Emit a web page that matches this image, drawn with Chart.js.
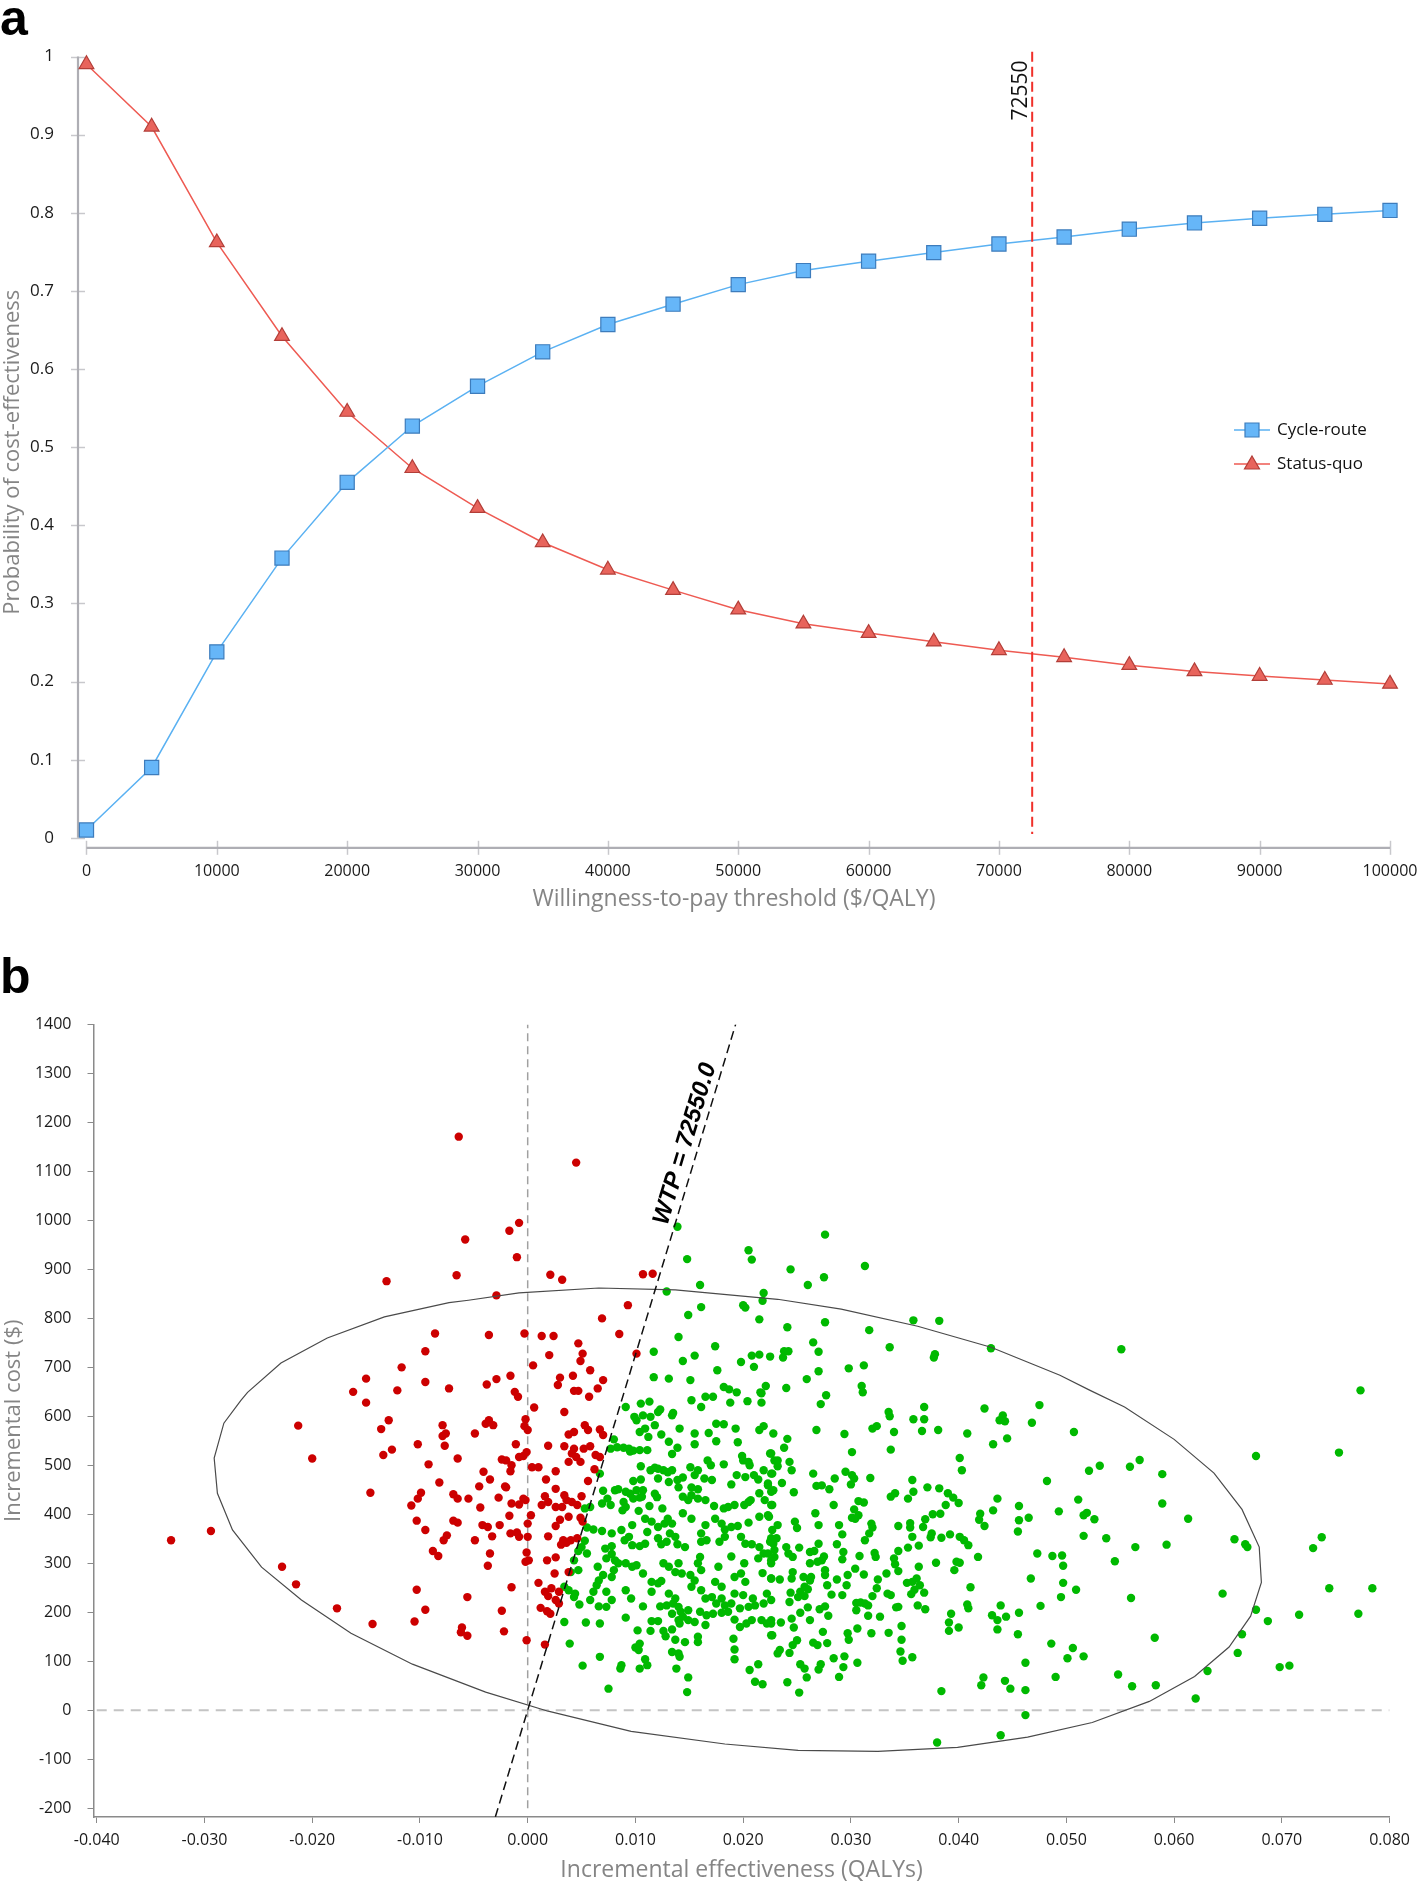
<!DOCTYPE html>
<html>
<head>
<meta charset="utf-8">
<script src="https://cdn.jsdelivr.net/npm/chart.js@4/dist/chart.umd.min.js"></script>
<style>
  body { margin: 0; background: #fff; }
  #page { position: relative; width: 1418px; height: 1884px; overflow: hidden; }
  .panel { position: absolute; left: 0; }
  .tag { position: absolute; left: 0; font: bold 50px "Liberation Sans", Arial, sans-serif; line-height: 50px; color: #000; }
</style>
</head>
<body>
<div id="page">
  <div class="panel" style="top:0"><canvas id="ceac" width="1418" height="930"></canvas></div>
  <div class="panel" style="top:930px"><canvas id="plane" width="1418" height="954"></canvas></div>
  <div class="tag" style="top:-7px">a</div>
  <div class="tag" style="top:951px">b</div>
</div>
<script>
// ---- panel a: acceptability curve ----
const wtpThresholds = [0, 5000, 10000, 15000, 20000, 25000, 30000, 35000, 40000, 45000, 50000,
  55000, 60000, 65000, 70000, 75000, 80000, 85000, 90000, 95000, 100000];
const cycleRoute = [0.01, 0.09, 0.238, 0.358, 0.455, 0.527, 0.578, 0.622, 0.657, 0.683, 0.708,
  0.726, 0.738, 0.749, 0.760, 0.769, 0.779, 0.787, 0.793, 0.798, 0.803];
const statusQuo = [0.99, 0.91, 0.762, 0.642, 0.545, 0.473, 0.422, 0.378, 0.343, 0.317, 0.292,
  0.274, 0.262, 0.251, 0.240, 0.231, 0.221, 0.213, 0.207, 0.202, 0.197];
const topXTicks = [0, 10000, 20000, 30000, 40000, 50000, 60000, 70000, 80000, 90000, 100000];
const topYTicks = [0, 0.1, 0.2, 0.3, 0.4, 0.5, 0.6, 0.7, 0.8, 0.9, 1];
const wtpValue = 72550;

// ---- panel b: cost-effectiveness plane ----
const planeXTicks = [-0.04, -0.03, -0.02, -0.01, 0, 0.01, 0.02, 0.03, 0.04, 0.05, 0.06, 0.07, 0.08];
const planeYTicks = [-200, -100, 0, 100, 200, 300, 400, 500, 600, 700, 800, 900, 1000, 1100, 1200, 1300, 1400];
const wtpLineEffects = [-0.003, 0.0193];

// confidence ellipse outline [effect, cost]
const ellipse = [[-0.0266,633],[-0.0260,649],[-0.0229,709],[-0.0186,760],[-0.0133,803],[-0.0073,832],
  [-0.0055,837],[-0.0008,852],[0.0066,862],[0.0137,858],[0.0232,839],[0.0291,819],[0.0362,784],
  [0.0430,741],[0.0494,684],[0.0522,653],[0.0554,619],[0.0600,553],[0.0637,484],[0.0663,410],
  [0.0679,333],[0.0681,261],[0.0671,192],[0.0651,129],[0.0619,69],[0.0577,18],[0.0524,-25],
  [0.0464,-55],[0.0399,-76],[0.0325,-84],[0.0251,-82],[0.0183,-69],[0.0096,-43],[0.0019,-2],
  [-0.0039,37],[-0.0107,94],[-0.0164,157],[-0.0210,225],[-0.0247,292],[-0.0274,368],[-0.0288,443],
  [-0.0291,515],[-0.0282,586],[-0.0266,633]];

// simulations not cost-effective at the threshold [effect, cost]
const redSims = [[-0.0064,1171],[-0.0058,961],[-0.0066,888],[-0.0131,876],[-0.0086,769],[-0.0095,733],
  [-0.0117,700],[-0.0150,677],[-0.0095,670],[-0.0073,657],[-0.0121,653],[-0.0162,650],
  [0.0045,1118],[-0.0008,995],[-0.0017,979],[-0.0010,925],[0.0021,889],[0.0032,879],[0.0107,890],
  [0.0116,891],[-0.0029,847],[0.0093,827],[0.0069,800],[-0.0036,766],[-0.0003,769],[0.0013,764],
  [0.0024,764],[0.0085,768],[0.0047,749],[0.0051,728],[0.0020,725],[0.0101,728],[0.0049,713],
  [0.0005,704],[0.0058,694],[-0.0016,683],[0.0042,683],[-0.0029,676],[0.0030,679],[0.0070,674],
  [-0.0038,665],[0.0028,664],[0.0065,657],[0.0043,652],[0.0047,652],[-0.0012,650],
  [-0.0150,628],[-0.0213,581],[-0.0129,592],[-0.0136,574],[-0.0079,582],[-0.0076,565],[-0.0079,560],
  [-0.0102,543],[-0.0077,540],[-0.0126,532],[-0.0134,521],[-0.0200,514],[-0.0065,514],[-0.0092,502],
  [-0.0082,465],[-0.0146,444],[-0.0099,444],[-0.0102,432],[-0.0069,441],[-0.0065,432],[-0.0055,432],
  [-0.0108,418],[-0.0103,387],[-0.0069,387],[-0.0065,383],[-0.0095,368],[-0.0294,366],[-0.0331,347],
  [-0.0075,357],[-0.0078,347],[-0.0088,325],[-0.0083,315],[-0.0228,293],[-0.0215,257],[-0.0103,246],
  [-0.0056,231],[-0.0177,208],[-0.0095,205],[-0.0144,176],[-0.0105,181],[-0.0061,169],[-0.0062,159],
  [-0.0056,152],
  [-0.0009,640],[0.0057,640],[0.0006,618],[0.0034,609],[-0.0036,592],[-0.0039,585],[-0.0032,582],
  [-0.0002,594],[-0.0003,580],[0.0000,572],[-0.0049,565],[0.0053,582],[0.0056,572],[0.0067,573],
  [0.0070,562],[0.0038,563],[0.0043,568],[-0.0011,543],[0.0019,540],[0.0034,539],[0.0043,534],
  [0.0052,534],[0.0058,539],[0.0041,524],[0.0045,517],[-0.0001,527],[-0.0004,519],[-0.0008,517],
  [0.0063,521],[0.0067,517],[-0.0024,512],[-0.0020,510],[0.0038,507],[0.0049,507],[-0.0015,500],
  [-0.0016,488],[0.0004,496],[0.0010,496],[-0.0041,487],[0.0026,488],[0.0062,492],[-0.0035,471],
  [0.0017,471],[0.0056,468],[-0.0045,457],[-0.0021,457],[-0.0020,455],[0.0026,452],[-0.0027,434],
  [-0.0004,432],[0.0016,437],[0.0019,425],[0.0013,419],[0.0034,439],[0.0036,429],[0.0041,425],
  [0.0046,419],[0.0050,437],[0.0032,415],[-0.0015,422],[-0.0008,420],[-0.0002,429],[-0.0044,414],
  [0.0026,415],[-0.0017,397],[0.0003,398],[0.0038,395],[0.0049,393],[0.0051,385],[0.0030,389],
  [-0.0042,378],[-0.0037,374],[-0.0026,378],[0.0000,381],[0.0026,376],[-0.0016,361],[-0.0010,363],
  [-0.0008,354],[-0.0033,355],[-0.0049,347],[0.0000,354],[0.0019,355],[0.0033,347],[0.0031,338],
  [0.0040,347],[0.0046,351],[0.0036,342],[-0.0035,320],[-0.0001,322],[-0.0002,303],[0.0001,306],
  [-0.0037,295],[0.0018,306],[0.0026,312],[0.0038,282],[0.0025,279],[0.0010,260],[-0.0015,251],
  [0.0022,249],[0.0016,242],[0.0029,242],[0.0019,233],[0.0026,225],[0.0029,218],[0.0012,209],
  [0.0018,202],[0.0021,197],[-0.0024,203],[-0.0022,161],[-0.0001,143],[0.0016,134]];

// simulations cost-effective at the threshold [effect, cost]
const greenSims = [[0.0139,987],[0.0205,939],[0.0208,920],[0.0148,921],[0.0129,855],[0.0160,868],
  [0.0219,852],[0.0218,836],[0.0200,827],[0.0202,822],[0.0161,823],[0.0149,807],[0.0215,798],
  [0.0140,762],[0.0174,743],[0.0117,732],[0.0155,724],[0.0208,724],[0.0215,726],[0.0225,722],
  [0.0144,713],[0.0198,711],[0.0210,701],[0.0176,694],[0.0117,680],[0.0131,677],[0.0151,674],
  [0.0182,660],[0.0187,655],[0.0194,649],[0.0221,662],[0.0216,649],
  [0.0276,971],[0.0244,900],[0.0313,907],[0.0275,884],[0.0260,868],[0.0241,782],[0.0276,792],
  [0.0317,776],[0.0358,796],[0.0382,795],[0.0430,739],[0.0265,751],[0.0238,733],[0.0242,733],
  [0.0270,732],[0.0336,741],[0.0237,720],[0.0378,727],[0.0377,720],[0.0298,698],[0.0312,704],
  [0.0270,692],[0.0259,676],[0.0310,662],[0.0311,649],[0.0240,658],[0.0277,643],
  [0.0551,737],[0.0773,653],
  [0.0105,626],[0.0113,630],[0.0091,619],[0.0152,633],[0.0165,640],[0.0172,640],[0.0188,628],
  [0.0204,631],[0.0217,647],[0.0217,628],[0.0161,619],[0.0123,614],[0.0121,609],[0.0135,607],
  [0.0134,602],[0.0099,599],[0.0101,592],[0.0107,602],[0.0114,599],
  [0.0118,582],[0.0104,568],[0.0109,575],[0.0112,558],[0.0124,563],[0.0141,575],[0.0155,565],
  [0.0168,566],[0.0175,585],[0.0182,584],[0.0193,575],[0.0215,572],[0.0219,580],[0.0228,565],
  [0.0195,547],[0.0175,549],[0.0155,543],[0.0131,548],[0.0080,553],
  [0.0077,534],[0.0083,537],[0.0089,536],[0.0094,534],[0.0098,530],[0.0104,531],[0.0111,531],
  [0.0095,528],[0.0139,536],[0.0134,523],[0.0199,519],[0.0200,510],[0.0225,524],[0.0167,510],
  [0.0170,500],[0.0182,502],[0.0205,507],[0.0206,500],[0.0229,510],
  [0.0105,498],[0.0114,490],[0.0118,495],[0.0121,493],[0.0126,490],[0.0130,486],[0.0134,490],
  [0.0151,496],[0.0158,490],[0.0155,480],[0.0067,483],[0.0121,473],[0.0131,466],[0.0139,470],
  [0.0144,475],[0.0098,468],[0.0105,471],[0.0164,473],[0.0171,470],[0.0194,480],[0.0202,476],
  [0.0210,480],[0.0214,471],[0.0219,490],[0.0226,483],[0.0189,461],[0.0152,455],[0.0158,451],
  [0.0140,455],[0.0223,459],[0.0228,449],
  [0.0081,449],[0.0084,451],[0.0091,446],[0.0095,442],[0.0101,449],[0.0107,449],[0.0104,434],
  [0.0118,442],[0.0120,435],[0.0070,448],[0.0053,412],[0.0058,415],[0.0069,422],[0.0074,432],
  [0.0077,419],[0.0089,425],[0.0091,415],[0.0098,432],[0.0106,436],[0.0113,417],[0.0125,412],
  [0.0144,436],[0.0149,429],[0.0152,439],[0.0158,432],[0.0165,429],[0.0173,417],[0.0182,412],
  [0.0186,415],[0.0192,419],[0.0201,419],[0.0205,425],[0.0207,429],[0.0215,443],[0.0220,429],
  [0.0226,419],
  [0.0088,408],[0.0103,407],[0.0109,391],[0.0115,385],[0.0121,374],[0.0127,381],[0.0130,391],
  [0.0144,402],[0.0152,391],[0.0165,378],[0.0174,391],[0.0180,381],[0.0183,369],[0.0189,374],
  [0.0195,376],[0.0205,383],[0.0215,395],[0.0223,398],[0.0055,373],[0.0061,369],[0.0069,366],
  [0.0078,361],[0.0087,368],[0.0097,378],[0.0094,354],[0.0111,364],[0.0132,361],[0.0137,354],
  [0.0134,381],[0.0121,351],[0.0129,344],[0.0124,339],[0.0161,361],[0.0166,347],[0.0161,344],
  [0.0198,354],[0.0202,340],[0.0208,339],[0.0215,333],[0.0226,351],[0.0228,340],
  [0.0053,346],[0.0050,333],[0.0055,320],[0.0047,325],[0.0072,330],[0.0078,335],[0.0073,310],
  [0.0078,319],[0.0090,347],[0.0097,337],[0.0104,335],[0.0109,340],[0.0139,339],[0.0146,333],
  [0.0178,344],[0.0183,354],
  [0.0043,306],[0.0047,286],[0.0040,282],[0.0065,293],[0.0070,276],[0.0066,265],[0.0064,255],
  [0.0081,306],[0.0084,300],[0.0091,300],[0.0097,293],[0.0101,296],[0.0080,286],[0.0078,272],
  [0.0107,279],[0.0115,262],[0.0121,259],[0.0124,264],[0.0126,300],[0.0131,293],[0.0140,300],
  [0.0137,282],[0.0143,279],[0.0151,276],[0.0152,252],[0.0155,265],[0.0160,313],[0.0158,300],
  [0.0161,286],[0.0177,293],[0.0174,262],[0.0180,252],[0.0192,272],[0.0198,279],[0.0202,262],
  [0.0201,300],[0.0189,314],[0.0214,310],[0.0219,320],[0.0226,300],[0.0229,313],[0.0218,280],
  [0.0226,269],
  [0.0034,252],[0.0038,245],[0.0043,231],[0.0044,238],[0.0048,216],[0.0058,225],[0.0061,242],
  [0.0073,242],[0.0078,225],[0.0066,212],[0.0073,211],[0.0091,245],[0.0096,228],[0.0107,212],
  [0.0115,242],[0.0123,212],[0.0129,214],[0.0131,238],[0.0137,228],[0.0135,218],[0.0140,211],
  [0.0142,201],[0.0149,204],[0.0144,191],[0.0149,184],
  [0.0161,245],[0.0165,228],[0.0171,231],[0.0175,218],[0.0180,228],[0.0183,214],[0.0189,218],
  [0.0186,201],[0.0180,199],[0.0172,197],[0.0166,194],[0.0160,201],[0.0192,238],[0.0200,235],
  [0.0197,208],[0.0205,211],[0.0209,228],[0.0211,214],[0.0219,218],[0.0222,238],[0.0226,225],
  [0.0034,180],[0.0054,179],[0.0067,177],[0.0091,189],[0.0115,182],[0.0121,182],[0.0134,197],
  [0.0140,184],[0.0141,177],[0.0155,180],[0.0165,174],[0.0192,185],[0.0197,170],[0.0203,177],
  [0.0208,184],[0.0217,184],[0.0222,177],[0.0226,184],
  [0.0102,163],[0.0114,162],[0.0126,162],[0.0134,165],[0.0128,151],[0.0137,144],[0.0146,139],
  [0.0158,150],[0.0158,139],[0.0191,146],[0.0192,124],[0.0226,153],[0.0039,136],[0.0100,128],
  [0.0104,136],[0.0103,123],[0.0134,119],[0.0140,116],[0.0141,109],[0.0067,109],[0.0109,104],
  [0.0111,92],[0.0104,85],[0.0087,92],[0.0086,85],[0.0051,91],[0.0138,85],[0.0192,104],
  [0.0206,82],[0.0214,94],[0.0149,67],[0.0211,58],[0.0218,53],[0.0075,44],[0.0148,37],
  [0.0272,625],[0.0268,572],[0.0294,564],[0.0241,554],[0.0238,536],[0.0301,527],[0.0320,575],
  [0.0324,580],[0.0335,609],[0.0336,600],[0.0340,568],[0.0337,532],[0.0358,594],[0.0368,619],
  [0.0368,594],[0.0366,570],[0.0381,572],[0.0408,565],[0.0424,616],[0.0438,592],[0.0441,602],
  [0.0443,590],[0.0432,543],[0.0445,555],[0.0468,587],[0.0475,623],[0.0507,568],[0.0401,515],
  [0.0403,490],
  [0.0226,524],[0.0232,510],[0.0232,498],[0.0227,483],[0.0236,464],[0.0243,507],[0.0245,490],
  [0.0223,463],[0.0226,446],[0.0227,419],[0.0224,395],[0.0247,445],[0.0265,483],[0.0268,458],
  [0.0273,459],[0.0280,451],[0.0295,487],[0.0301,480],[0.0303,473],[0.0300,461],[0.0285,473],
  [0.0318,474],[0.0284,419],[0.0307,427],[0.0312,424],[0.0303,410],[0.0337,436],[0.0341,443],
  [0.0353,432],[0.0358,446],[0.0357,470],[0.0371,455],[0.0382,453],[0.0390,443],[0.0395,434],
  [0.0400,423],[0.0388,419],[0.0376,400],[0.0383,401],[0.0369,390],[0.0436,432],[0.0432,408],
  [0.0420,401],[0.0419,389],[0.0424,376],[0.0456,417],[0.0456,388],[0.0455,365],[0.0465,393],
  [0.0482,468],[0.0493,406],[0.0511,430],[0.0516,398],[0.0516,356],
  [0.0227,368],[0.0231,351],[0.0225,344],[0.0229,327],[0.0232,378],[0.0223,320],[0.0226,306],
  [0.0248,385],[0.0250,372],[0.0240,333],[0.0242,320],[0.0246,313],[0.0252,332],[0.0267,402],
  [0.0270,378],[0.0289,378],[0.0292,359],[0.0270,340],[0.0287,339],[0.0262,323],[0.0266,325],
  [0.0262,300],[0.0269,303],[0.0275,314],[0.0273,306],[0.0293,323],[0.0292,308],[0.0308,315],
  [0.0301,393],[0.0307,398],[0.0304,391],[0.0319,381],[0.0320,373],[0.0317,361],[0.0313,347],
  [0.0322,321],[0.0323,313],[0.0344,376],[0.0355,382],[0.0355,373],[0.0357,354],[0.0367,374],
  [0.0375,361],[0.0374,353],[0.0384,352],[0.0392,359],[0.0401,354],[0.0405,347],[0.0409,337],
  [0.0363,336],[0.0353,332],[0.0344,325],[0.0418,313],[0.0379,301],[0.0398,303],[0.0401,301],
  [0.0396,286],[0.0340,310],[0.0341,298],[0.0344,284],[0.0363,293],[0.0473,320],[0.0487,315],
  [0.0496,316],[0.0497,295],
  [0.0226,269],[0.0234,267],[0.0246,282],[0.0245,269],[0.0256,272],[0.0262,265],[0.0263,272],
  [0.0257,252],[0.0260,247],[0.0253,242],[0.0257,233],[0.0251,231],[0.0244,240],[0.0243,221],
  [0.0276,286],[0.0276,276],[0.0278,255],[0.0282,236],[0.0292,235],[0.0287,267],[0.0297,276],
  [0.0296,255],[0.0304,289],[0.0312,277],[0.0325,267],[0.0324,249],[0.0320,233],[0.0305,219],
  [0.0313,218],[0.0316,214],[0.0309,220],[0.0305,204],[0.0333,279],[0.0334,238],[0.0337,235],
  [0.0352,260],[0.0357,262],[0.0361,269],[0.0364,255],[0.0359,246],[0.0356,237],[0.0368,240],
  [0.0342,210],[0.0344,211],[0.0362,214],[0.0369,206],[0.0316,193],[0.0327,191],[0.0271,206],
  [0.0276,212],[0.0279,193],[0.0260,210],[0.0245,187],[0.0247,169],[0.0253,199],[0.0235,179],
  [0.0226,177],[0.0227,153],[0.0262,184],[0.0274,160],[0.0278,137],[0.0265,138],[0.0269,133],
  [0.0246,133],[0.0250,143],[0.0243,117],[0.0232,116],[0.0234,123],[0.0297,157],[0.0298,144],
  [0.0306,167],[0.0319,157],[0.0335,158],[0.0347,172],[0.0347,144],[0.0346,120],[0.0348,101],
  [0.0357,108],[0.0284,106],[0.0294,110],[0.0293,88],[0.0289,68],[0.0306,97],[0.0253,94],
  [0.0257,85],[0.0259,67],[0.0272,94],[0.0270,83],[0.0241,57],[0.0252,36],[0.0384,39],
  [0.0393,197],[0.0391,179],[0.0391,162],[0.0400,169],[0.0408,216],[0.0409,208],[0.0411,251],
  [0.0439,214],[0.0431,194],[0.0436,184],[0.0444,191],[0.0436,165],[0.0456,199],[0.0455,155],
  [0.0467,269],[0.0476,213],[0.0497,260],[0.0509,246],[0.0495,231],[0.0486,136],[0.0506,127],
  [0.0501,106],[0.0516,110],[0.0462,97],[0.0490,68],[0.0423,67],[0.0421,51],[0.0443,60],
  [0.0448,44],[0.0462,41],[0.0462,-10],[0.0439,-51],[0.0380,-66],
  [0.0676,519],[0.0753,526],[0.0521,489],[0.0531,499],[0.0559,497],[0.0568,511],[0.0589,482],
  [0.0589,422],[0.0519,403],[0.0526,390],[0.0613,391],[0.0537,351],[0.0564,333],[0.0593,338],
  [0.0545,304],[0.0656,349],[0.0666,339],[0.0668,333],[0.0737,353],[0.0729,331],[0.0560,229],
  [0.0645,238],[0.0744,249],[0.0784,249],[0.0676,205],[0.0687,182],[0.0716,195],[0.0771,197],
  [0.0663,155],[0.0582,148],[0.0659,117],[0.0548,73],[0.0561,49],[0.0583,51],[0.0631,80],
  [0.0620,24],[0.0698,88],[0.0707,91]];

const uiFont = '"Segoe UI", "Open Sans", sans-serif';
const toXY = arr => arr.map(p => ({ x: p[0], y: p[1] }));

// draws the detached axes of panel a
const detachedAxes = {
  id: 'detachedAxes',
  beforeDatasetsDraw(chart) {
    const { ctx, scales: { x, y } } = chart;
    const ax = x.getPixelForValue(x.min);
    const ay = y.getPixelForValue(y.min);
    ctx.save();
    ctx.strokeStyle = '#c8c8cc';
    ctx.lineWidth = 1.5;
    topYTicks.forEach(v => {
      const py = Math.round(y.getPixelForValue(v)) + 0.5;
      ctx.beginPath(); ctx.moveTo(ax - 7, py); ctx.lineTo(ax + 7, py); ctx.stroke();
    });
    topXTicks.forEach(v => {
      const px = Math.round(x.getPixelForValue(v)) + 0.5;
      ctx.beginPath(); ctx.moveTo(px, ay - 7); ctx.lineTo(px, ay + 7); ctx.stroke();
    });
    ctx.strokeStyle = '#aeaeb4';
    ctx.lineWidth = 2.2;
    ctx.beginPath();
    ctx.moveTo(ax, y.getPixelForValue(0)); ctx.lineTo(ax, y.getPixelForValue(1));
    ctx.moveTo(x.getPixelForValue(0), ay); ctx.lineTo(x.getPixelForValue(100000), ay);
    ctx.stroke();
    ctx.restore();
  },
  afterDatasetsDraw(chart) {
    const { ctx, scales: { x, y } } = chart;
    const px = x.getPixelForValue(wtpValue);
    ctx.save();
    ctx.strokeStyle = '#f0302a';
    ctx.lineWidth = 2;
    ctx.setLineDash([10, 5]);
    ctx.beginPath();
    ctx.moveTo(px, y.getPixelForValue(1.006));
    ctx.lineTo(px, y.getPixelForValue(0.005));
    ctx.stroke();
    ctx.setLineDash([]);
    ctx.translate(px - 5, y.getPixelForValue(0.995));
    ctx.rotate(-Math.PI / 2);
    ctx.fillStyle = '#111';
    ctx.font = '21px ' + uiFont;
    ctx.textAlign = 'right';
    ctx.textBaseline = 'alphabetic';
    ctx.fillText(String(wtpValue), 0, 0);
    ctx.restore();

    // legend in the plot area
    ctx.save();
    chart.data.datasets.forEach((ds, i) => {
      const ly = 430 + i * 34;
      const lx = 1234;
      ctx.strokeStyle = ds.borderColor;
      ctx.lineWidth = 1.5;
      ctx.beginPath(); ctx.moveTo(lx, ly); ctx.lineTo(lx + 36, ly); ctx.stroke();
      ctx.fillStyle = ds.pointBackgroundColor;
      ctx.strokeStyle = ds.pointBorderColor;
      ctx.lineWidth = 1.2;
      ctx.beginPath();
      if (ds.pointStyle === 'rect') {
        ctx.rect(lx + 11, ly - 7, 14, 14);
      } else {
        ctx.moveTo(lx + 18, ly - 8); ctx.lineTo(lx + 25.5, ly + 5); ctx.lineTo(lx + 10.5, ly + 5); ctx.closePath();
      }
      ctx.fill(); ctx.stroke();
      ctx.fillStyle = '#111';
      ctx.font = '17px ' + uiFont;
      ctx.textAlign = 'left';
      ctx.textBaseline = 'middle';
      ctx.fillText(ds.label, lx + 43, ly);
    });
    ctx.restore();
  }
};

new Chart(document.getElementById('ceac'), {
  type: 'scatter',
  data: {
    datasets: [{
      label: 'Cycle-route',
      data: wtpThresholds.map((v, i) => ({ x: v, y: cycleRoute[i] })),
      showLine: true,
      borderColor: '#5ab1f2',
      borderWidth: 1.5,
      pointStyle: 'rect',
      pointRadius: 10,
      pointBackgroundColor: '#66b6f8',
      pointBorderColor: '#3d7cbc',
      pointBorderWidth: 1.2,
      clip: false
    }, {
      label: 'Status-quo',
      data: wtpThresholds.map((v, i) => ({ x: v, y: statusQuo[i] })),
      showLine: true,
      borderColor: '#ee5a52',
      borderWidth: 1.5,
      pointStyle: 'triangle',
      pointRadius: 8.5,
      pointBackgroundColor: '#e8645c',
      pointBorderColor: '#b23e38',
      pointBorderWidth: 1.2,
      clip: false
    }]
  },
  options: {
    responsive: false,
    animation: false,
    layout: { padding: { left: 0, right: 0, top: 56.5, bottom: 0 } },
    plugins: { legend: { display: false }, tooltip: { enabled: false } },
    scales: {
      x: {
        type: 'linear', min: -650, max: 100000,
        afterBuildTicks: s => { s.ticks = topXTicks.map(v => ({ value: v })); },
        afterFit: s => { s.height = 82.2; s.paddingLeft = 0; s.paddingRight = 28; },
        grid: { display: false }, border: { display: false },
        ticks: { padding: 6, color: '#1a1a1a', font: { family: uiFont, size: 16 }, maxRotation: 0, autoSkip: false, callback: v => String(v) },
        title: { display: true, text: 'Willingness-to-pay threshold ($/QALY)', color: '#858585', font: { family: uiFont, size: 23 }, padding: { top: 0, bottom: 17 } }
      },
      y: {
        type: 'linear', min: -0.0128, max: 1,
        afterBuildTicks: s => { s.ticks = topYTicks.map(v => ({ value: v })); },
        afterFit: s => { s.width = 78; },
        grid: { display: false }, border: { display: false },
        ticks: { padding: 16, color: '#1a1a1a', font: { family: uiFont, size: 17 }, autoSkip: false, callback: v => String(+v.toFixed(1)) },
        title: { display: true, text: 'Probability of cost-effectiveness', color: '#858585', font: { family: uiFont, size: 22 }, padding: { top: 0, bottom: 0 } }
      }
    }
  },
  plugins: [detachedAxes]
});

// label along the threshold line of panel b
const wtpLabel = {
  id: 'wtpLabel',
  afterDatasetsDraw(chart) {
    const { ctx, scales: { x, y } } = chart;
    const c0 = 0, c1 = 1148;
    const x0 = x.getPixelForValue(c0 / wtpValue), y0 = y.getPixelForValue(c0);
    const x1 = x.getPixelForValue(c1 / wtpValue), y1 = y.getPixelForValue(c1);
    ctx.save();
    ctx.translate(x1, y1);
    ctx.rotate(Math.atan2(y1 - y0, x1 - x0));
    ctx.fillStyle = '#000';
    ctx.font = 'italic bold 24px "Liberation Sans", Arial, sans-serif';
    ctx.textAlign = 'center';
    ctx.textBaseline = 'alphabetic';
    ctx.fillText('WTP = ' + wtpValue.toFixed(1), 0, -7);
    ctx.restore();
  }
};

new Chart(document.getElementById('plane'), {
  type: 'scatter',
  data: {
    datasets: [{
      label: 'threshold',
      data: wtpLineEffects.map(e => ({ x: e, y: e * wtpValue })),
      showLine: true, borderColor: '#111', borderWidth: 1.5, borderDash: [9, 5],
      pointRadius: 0, order: 0
    }, {
      label: 'ellipse',
      data: toXY(ellipse),
      showLine: true, borderColor: '#4a4a4a', borderWidth: 1.2,
      pointRadius: 0, order: 1
    }, {
      label: 'not cost-effective',
      data: toXY(redSims),
      pointRadius: 4.2, pointBorderWidth: 0, pointBackgroundColor: '#cc0000', order: 2
    }, {
      label: 'cost-effective',
      data: toXY(greenSims),
      pointRadius: 4.2, pointBorderWidth: 0, pointBackgroundColor: '#00b900', order: 3
    }, {
      label: 'zero effect',
      data: [{ x: 0, y: -200 }, { x: 0, y: 1400 }],
      showLine: true, borderColor: '#a0a0a0', borderWidth: 1.5, borderDash: [8, 5],
      pointRadius: 0, order: 4
    }, {
      label: 'zero cost',
      data: [{ x: -0.04, y: 0 }, { x: 0.08, y: 0 }],
      showLine: true, borderColor: '#c4c4c4', borderWidth: 2, borderDash: [10, 7],
      pointRadius: 0, order: 5
    }]
  },
  options: {
    responsive: false,
    animation: false,
    layout: { padding: { left: 0, right: 25, top: 94.5, bottom: 0 } },
    plugins: { legend: { display: false }, tooltip: { enabled: false } },
    scales: {
      x: {
        type: 'linear', min: -0.0403, max: 0.08,
        afterBuildTicks: s => { s.ticks = planeXTicks.map(v => ({ value: v })); },
        afterFit: s => { s.height = 67; },
        grid: { display: true, drawOnChartArea: false, drawTicks: true, tickLength: 6, color: '#8a8a8a' },
        border: { display: true, color: '#8a8a8a', width: 1.5 },
        ticks: { padding: 8, color: '#1a1a1a', font: { family: uiFont, size: 16 }, maxRotation: 0, autoSkip: false, callback: v => v.toFixed(3) },
        title: { display: true, text: 'Incremental effectiveness (QALYs)', color: '#858585', font: { family: uiFont, size: 23 }, padding: { top: 0, bottom: 0 } }
      },
      y: {
        type: 'linear', min: -218, max: 1400,
        afterBuildTicks: s => { s.ticks = planeYTicks.map(v => ({ value: v })); },
        afterFit: s => { s.width = 93.5; },
        grid: { display: true, drawOnChartArea: false, drawTicks: true, tickLength: 6, color: '#8a8a8a' },
        border: { display: true, color: '#8a8a8a', width: 1.5 },
        ticks: { padding: 16, color: '#1a1a1a', font: { family: uiFont, size: 16 }, autoSkip: false, callback: v => String(v) },
        title: { display: true, text: 'Incremental cost ($)', color: '#858585', font: { family: uiFont, size: 22 }, padding: { top: 1, bottom: 0 } }
      }
    }
  },
  plugins: [wtpLabel]
});
</script>
</body>
</html>
